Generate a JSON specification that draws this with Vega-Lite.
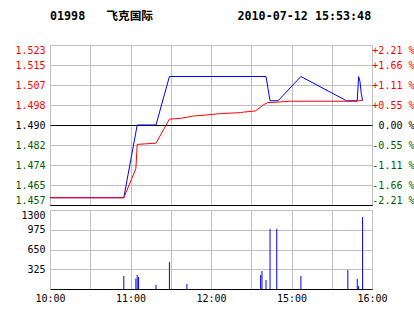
{
  "$schema": "https://vega.github.io/schema/vega-lite/v6.json",
  "background": "white",
  "padding": {"left": 5, "top": 10, "right": 0, "bottom": 0},
  "spacing": 5,
  "bounds": "flush",
  "title": {
    "text": "01998\u00a0\u00a0\u00a0飞克国际\u00a0\u00a0\u00a0\u00a0\u00a0\u00a0\u00a0\u00a0\u00a0\u00a0\u00a0\u00a02010-07-12 15:53:48",
    "anchor": "start",
    "frame": "bounds",
    "font": "DejaVu Sans Mono, Noto Sans CJK SC",
    "fontSize": 11.7,
    "fontWeight": "bold",
    "color": "#000000",
    "dx": 44.5,
    "offset": 22
  },
  "config": {
    "view": {"stroke": "#c0c0c0", "strokeWidth": 1},
    "axis": {"labelFont": "DejaVu Sans Mono", "labelFontSize": 10, "labelColor": "#000000", "labelFlush": false, "labelOverlap": false, "labelBound": false, "gridColor": "#c0c0c0", "gridOpacity": 1, "gridWidth": 1},
    "concat": {"spacing": 5}
  },
  "datasets": {
    "price": [
      {"m": 0, "p": 1.460}, {"m": 55, "p": 1.460}, {"m": 65, "p": 1.490}, {"m": 79, "p": 1.490},
      {"m": 89, "p": 1.510}, {"m": 161, "p": 1.510}, {"m": 164, "p": 1.500}, {"m": 170, "p": 1.500},
      {"m": 187, "p": 1.510}, {"m": 221, "p": 1.500}, {"m": 229, "p": 1.500}, {"m": 230, "p": 1.510},
      {"m": 231, "p": 1.508}, {"m": 232, "p": 1.503}, {"m": 233, "p": 1.500}
    ],
    "avg": [
      {"m": 0, "p": 1.460}, {"m": 55, "p": 1.460}, {"m": 64, "p": 1.472}, {"m": 65, "p": 1.482},
      {"m": 79, "p": 1.4825}, {"m": 89, "p": 1.4924}, {"m": 98, "p": 1.4928}, {"m": 107, "p": 1.4937},
      {"m": 116, "p": 1.4941}, {"m": 127, "p": 1.4947}, {"m": 142, "p": 1.4951}, {"m": 144, "p": 1.4953},
      {"m": 153, "p": 1.4958}, {"m": 157, "p": 1.4974}, {"m": 159, "p": 1.4983}, {"m": 162, "p": 1.4992},
      {"m": 179, "p": 1.4998}, {"m": 229, "p": 1.4998}, {"m": 233, "p": 1.5003}
    ],
    "vol": [
      {"m": 55, "v": 214}, {"m": 64, "v": 170}, {"m": 65, "v": 230}, {"m": 66, "v": 197},
      {"m": 79, "v": 66}, {"m": 89, "v": 444}, {"m": 102, "v": 82}, {"m": 157, "v": 230},
      {"m": 158, "v": 296}, {"m": 161, "v": 148}, {"m": 164, "v": 990}, {"m": 169, "v": 990},
      {"m": 187, "v": 214}, {"m": 222, "v": 313}, {"m": 229, "v": 165}, {"m": 230, "v": 49},
      {"m": 233, "v": 1185}
    ]
  },
  "vconcat": [
    {
      "width": 322,
      "height": 160,
      "layer": [
        {
          "data": {"name": "price"},
          "mark": {"type": "line", "color": "#0000ff", "strokeWidth": 1},
          "encoding": {
            "x": {"field": "m", "type": "quantitative", "scale": {"domain": [0, 240], "nice": false, "zero": false},
              "axis": {"values": [0, 30, 60, 90, 120, 150, 180, 210, 240], "grid": true, "labels": false, "ticks": false, "domain": true, "domainColor": "#000000", "domainWidth": 1, "title": null, "minExtent": 0, "maxExtent": 0, "labelPadding": 0}},
            "y": {"field": "p", "type": "quantitative", "scale": {"domain": [1.457, 1.523], "nice": false, "zero": false},
              "axis": {"orient": "left", "title": null, "values": [1.457, 1.46525, 1.4735, 1.48175, 1.49, 1.49825, 1.5065, 1.51475, 1.523],
                "labelExpr": "format(datum.value + 0.0000001, '.3f')", "labelFlush": true,
                "grid": true, "domain": false, "ticks": false, "labelPadding": 5, "minExtent": 44, "maxExtent": 44,
                "gridColor": {"condition": {"test": "abs(datum.value - 1.49) < 0.0001 || datum.value < 1.4575", "value": "#000000"}, "value": "#c0c0c0"},
                "labelColor": {"condition": [{"test": "datum.value > 1.4901", "value": "#ff0000"}, {"test": "datum.value < 1.4899", "value": "#006000"}], "value": "#000000"}}}
          }
        },
        {
          "data": {"name": "avg"},
          "mark": {"type": "line", "color": "#ff0000", "strokeWidth": 1},
          "encoding": {
            "x": {"field": "m", "type": "quantitative", "scale": {"domain": [0, 240], "nice": false, "zero": false},
              "axis": {"values": [0, 30, 60, 90, 120, 150, 180, 210, 240], "grid": true, "labels": false, "ticks": false, "domain": true, "domainColor": "#000000", "domainWidth": 1, "title": null, "minExtent": 0, "maxExtent": 0, "labelPadding": 0}},
            "y": {"field": "p", "type": "quantitative", "scale": {"domain": [1.457, 1.523], "nice": false, "zero": false},
              "axis": {"orient": "right", "title": null, "values": [1.457, 1.46525, 1.4735, 1.48175, 1.49, 1.49825, 1.5065, 1.51475, 1.523],
                "labelExpr": "(datum.value > 1.4901 ? '+' : datum.value < 1.4899 ? '-' : '') + format(abs(datum.value - 1.49) / 1.49 * 100 + 0.000001, '.2f') + ' %'", "labelFlush": true,
                "grid": false, "domain": false, "ticks": false, "labelAlign": "right", "labelPadding": 42, "minExtent": 43, "maxExtent": 43,
                "labelColor": {"condition": [{"test": "datum.value > 1.4901", "value": "#ff0000"}, {"test": "datum.value < 1.4899", "value": "#006000"}], "value": "#000000"}}}
          }
        }
      ],
      "resolve": {"axis": {"y": "independent"}}
    },
    {
      "width": 322,
      "height": 79,
      "data": {"name": "vol"},
      "mark": {"type": "rule", "color": "#0000ff", "strokeWidth": 1},
      "encoding": {
        "x": {"field": "m", "type": "quantitative", "scale": {"domain": [0, 240], "nice": false, "zero": false},
          "axis": {"values": [0, 30, 60, 90, 120, 150, 180, 210, 240], "grid": true, "ticks": false, "domain": true, "domainColor": "#000000", "title": null, "labelPadding": 4,
            "labelExpr": "datum.value == 0 ? '10:00' : datum.value == 60 ? '11:00' : datum.value == 120 ? '12:00' : datum.value == 180 ? '15:00' : datum.value == 240 ? '16:00' : ''"}},
        "y": {"field": "v", "type": "quantitative", "scale": {"domain": [0, 1300], "nice": false, "zero": true},
          "axis": {"values": [325, 650, 975, 1300], "format": "d", "labelFlush": true, "title": null, "grid": true, "domain": false, "ticks": false, "labelPadding": 5, "minExtent": 44, "maxExtent": 44}},
        "y2": {"datum": 0}
      }
    }
  ]
}
